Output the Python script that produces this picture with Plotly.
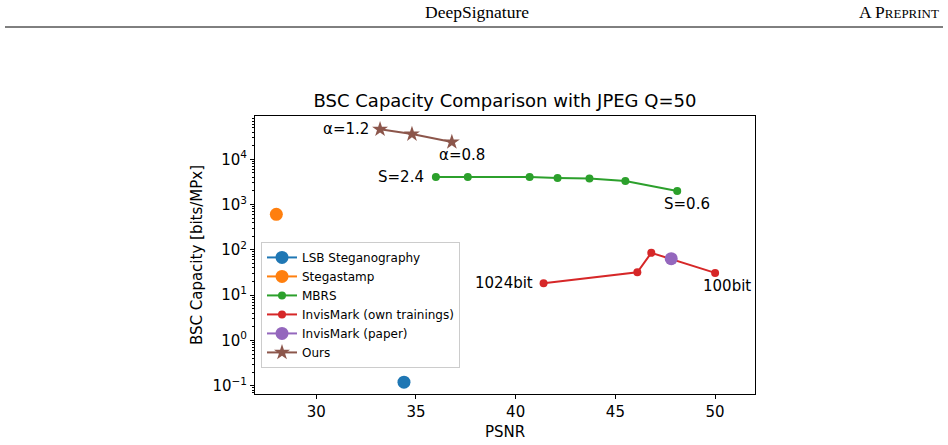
import math
import plotly.graph_objects as go

# ---- data ----
lsb_psnr = [34.4]
lsb_cap = [0.12]

stega_psnr = [28.0]
stega_cap = [610]

mbrs_psnr = [36.0, 37.6, 40.7, 42.1, 43.7, 45.5, 48.1]
mbrs_cap = [4050, 4050, 4050, 3850, 3750, 3300, 2000]

invis_psnr = [41.4, 46.1, 46.8, 50.0]
invis_cap = [18.3, 32, 86, 31]

invis_paper_psnr = [47.8]
invis_paper_cap = [64]

ours_psnr = [33.2, 34.8, 36.8]
ours_cap = [46000, 36000, 24000]

series_names = ["LSB Steganography", "Stegastamp", "MBRS",
                "InvisMark (own trainings)", "InvisMark (paper)", "Ours"]
colors = ["#1f77b4", "#ff7f0e", "#2ca02c", "#d62728", "#9467bd", "#8c564b"]

ytick_vals = [0.1, 1, 10, 100, 1000, 10000]
ytick_text = ["10<sup>\u22121</sup>", "10<sup>0</sup>", "10<sup>1</sup>",
              "10<sup>2</sup>", "10<sup>3</sup>", "10<sup>4</sup>"]
xtick_vals = [30, 35, 40, 45, 50]

FONT = "DejaVu Sans"

fig = go.Figure()

fig.add_trace(go.Scatter(x=lsb_psnr, y=lsb_cap, mode="lines+markers", name=series_names[0],
                         line=dict(color=colors[0], width=2),
                         marker=dict(color=colors[0], size=13)))
fig.add_trace(go.Scatter(x=stega_psnr, y=stega_cap, mode="lines+markers", name=series_names[1],
                         line=dict(color=colors[1], width=2),
                         marker=dict(color=colors[1], size=13)))
fig.add_trace(go.Scatter(x=mbrs_psnr, y=mbrs_cap, mode="lines+markers", name=series_names[2],
                         line=dict(color=colors[2], width=2),
                         marker=dict(color=colors[2], size=8)))
fig.add_trace(go.Scatter(x=invis_psnr, y=invis_cap, mode="lines+markers", name=series_names[3],
                         line=dict(color=colors[3], width=2),
                         marker=dict(color=colors[3], size=8)))
fig.add_trace(go.Scatter(x=invis_paper_psnr, y=invis_paper_cap, mode="lines+markers", name=series_names[4],
                         line=dict(color=colors[4], width=2),
                         marker=dict(color=colors[4], size=13)))
fig.add_trace(go.Scatter(x=ours_psnr, y=ours_cap, mode="lines+markers", name=series_names[5],
                         line=dict(color=colors[5], width=2),
                         marker=dict(color=colors[5], size=12, symbol="star")))

ann_font = dict(family=FONT, size=15, color="black")
annotations = [
    dict(x=ours_psnr[0], y=math.log10(ours_cap[0]), text="\u03b1=1.2", xanchor="right", yanchor="middle", xshift=-9),
    dict(x=ours_psnr[-1], y=math.log10(ours_cap[-1]), text="\u03b1=0.8", xanchor="center", yanchor="middle", xshift=10, yshift=-13),
    dict(x=mbrs_psnr[0], y=math.log10(mbrs_cap[0]), text="S=2.4", xanchor="right", yanchor="middle", xshift=-10),
    dict(x=mbrs_psnr[-1], y=math.log10(mbrs_cap[-1]), text="S=0.6", xanchor="center", yanchor="middle", xshift=10, yshift=-13),
    dict(x=invis_psnr[0], y=math.log10(invis_cap[0]), text="1024bit", xanchor="right", yanchor="middle", xshift=-9),
    dict(x=invis_psnr[-1], y=math.log10(invis_cap[-1]), text="100bit", xanchor="center", yanchor="middle", xshift=12, yshift=-13),
]
for a in annotations:
    a.update(xref="x", yref="y", showarrow=False, font=ann_font)

# page header
annotations.append(dict(xref="paper", yref="paper", x=(477 - 255) / 500, y=1 + (116 - 12) / 278,
                        text="DeepSignature", showarrow=False, xanchor="center", yanchor="middle",
                        font=dict(family="Liberation Serif", size=17.5, color="black")))
annotations.append(dict(xref="paper", yref="paper", x=(941 - 255) / 500, y=1 + (116 - 12) / 278,
                        text="A P<span style='font-size:13px'>REPRINT</span>", showarrow=False,
                        xanchor="right", yanchor="middle",
                        font=dict(family="Liberation Serif", size=17.5, color="black")))

minor_vals = []
for e in [0.1, 1, 10, 100, 1000, 10000]:
    for k in range(2, 10):
        minor_vals.append(e * k)
minor_vals = [v for v in minor_vals if v < 90000] + [0.07, 0.08, 0.09]

fig.update_layout(
    width=948, height=445,
    margin=dict(l=255, r=193, t=116, b=51, autoexpand=False),
    paper_bgcolor="white", plot_bgcolor="white",
    font=dict(family=FONT, size=15, color="black"),
    title=dict(text="BSC Capacity Comparison with JPEG Q=50", x=(505) / 948, xanchor="center",
               y=1 - 101 / 445, yanchor="middle", font=dict(family=FONT, size=18, color="black")),
    showlegend=True,
    legend=dict(x=0.012, y=0.547, xanchor="left", yanchor="top",
                bgcolor="rgba(255,255,255,0.8)", bordercolor="#cccccc", borderwidth=1,
                font=dict(family=FONT, size=12, color="black"),
                tracegroupgap=0, itemwidth=30),
    annotations=annotations,
    shapes=[dict(type="line", xref="paper", yref="paper",
                 x0=(5 - 255) / 500, x1=(943 - 255) / 500,
                 y0=1 + (116 - 27) / 278, y1=1 + (116 - 27) / 278,
                 line=dict(color="black", width=1))],
)

fig.update_xaxes(range=[26.93, 52.0], tickvals=xtick_vals, ticks="outside", ticklen=4,
                 tickcolor="black", showline=True, linecolor="black", linewidth=1, mirror=True,
                 showgrid=False, zeroline=False, automargin=False,
                 title=dict(text="PSNR", font=dict(family=FONT, size=15), standoff=6),
                 tickfont=dict(family=FONT, size=15))
fig.update_yaxes(type="log", range=[-1.183, 4.956], tickvals=ytick_vals, ticktext=ytick_text,
                 ticks="outside", ticklen=4, tickcolor="black",
                 minor=dict(tickvals=minor_vals, ticks="outside", ticklen=2, tickcolor="black", showgrid=False),
                 showline=True, linecolor="black", linewidth=1, mirror=True,
                 showgrid=False, zeroline=False, automargin=False,
                 title=dict(text="BSC Capacity [bits/MPx]", font=dict(family=FONT, size=15), standoff=6),
                 tickfont=dict(family=FONT, size=15))

fig.write_html("out.html")
